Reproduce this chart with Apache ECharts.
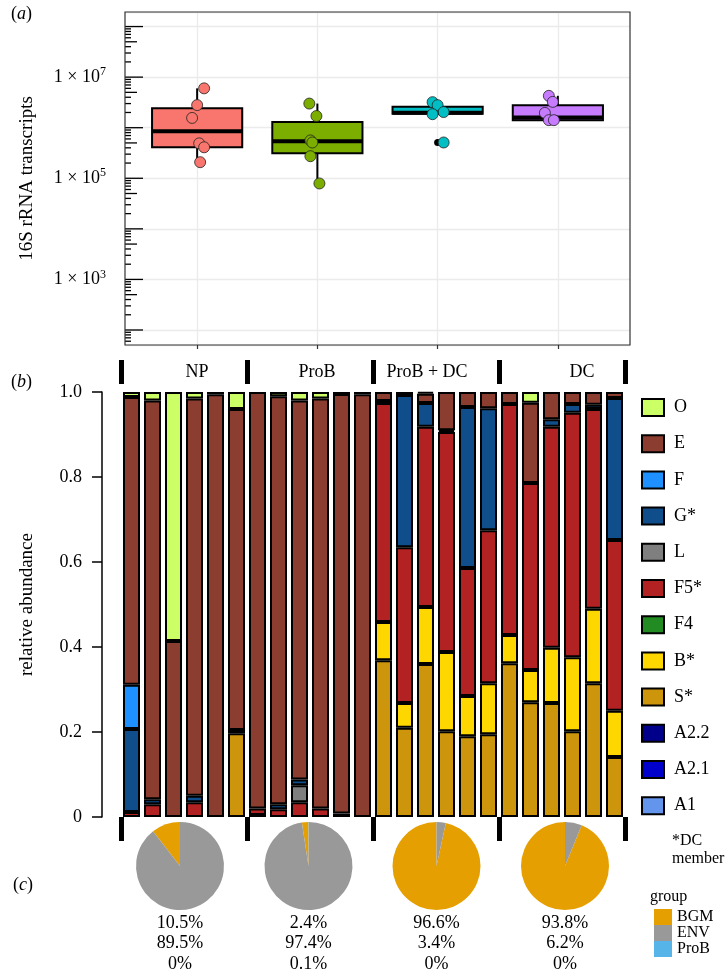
<!DOCTYPE html>
<html><head><meta charset="utf-8">
<script src="https://cdn.jsdelivr.net/npm/echarts@6/dist/echarts.min.js"></script>
<style>html,body{margin:0;padding:0;background:#fff}#c{width:728px;height:974px}</style>
</head><body><div id="c"></div>
<script>
const FONT = "'Liberation Serif','DejaVu Serif',serif";

// ---------- panel (a): 16S rRNA transcripts ----------
const groups = ['NP', 'ProB', 'ProB + DC', 'DC'];
const groupColors = ['#F8766D', '#7CAE00', '#00BFC4', '#C77CFF'];
// [min, Q1, median, Q3, max]
const boxNP    = [2.07e5, 4.1e5, 8.5e5, 2.43e6, 6.0e6];
const boxProB  = [7.9e4, 3.13e5, 5.4e5, 1.29e6, 3.0e6];
const boxProBDC = [1.85e6, 1.88e6, 1.98e6, 2.6e6, 3.2e6];
const boxDC    = [1.41e6, 1.41e6, 1.59e6, 2.79e6, 4.27e6];
// jittered sample points [x position, transcripts]
const ptsNP    = [[1.058, 6.0e6], [1.0, 2.8e6], [0.958, 1.56e6], [1.017, 4.9e5], [1.058, 4.1e5], [1.025, 2.08e5]];
const ptsProB  = [[1.933, 3.0e6], [1.992, 1.7e6], [1.942, 5.6e5], [1.958, 5.1e5], [1.942, 2.73e5], [2.017, 7.9e4]];
const ptsProBDC = [[2.958, 3.2e6], [3.0, 2.79e6], [3.05, 2.04e6], [2.958, 1.85e6], [3.05, 5.1e5]];
const ptsDC    = [[3.925, 4.27e6], [3.958, 3.24e6], [3.892, 1.96e6], [3.925, 1.41e6], [3.967, 1.41e6]];
const outliers = [[3.0, 5.1e5]];
const yLabelDecades = [3, 5, 7];
const logTickMantissas = [1, 2, 3, 4, 5, 6, 7, 8, 9];
const logTickDecades = [1, 2, 3, 4, 5, 6, 7, 8];
const Y_MIN = 50.5, Y_MAX = 1.94e8, X_MIN = 0.4, X_MAX = 4.6;

// ---------- panel (b): relative abundance ----------
const samples = ['NP1','NP2','NP3','NP4','NP5','NP6','PB1','PB2','PB3','PB4','PB5','PB6',
                 'PD1','PD2','PD3','PD4','PD5','PD6','DC1','DC2','DC3','DC4','DC5','DC6'];
const taxa = ['A1', 'A2.1', 'A2.2', 'S*', 'B*', 'F4', 'F5*', 'L', 'G*', 'F', 'E', 'O']; // bottom -> top
const taxaColors = {
  'O': '#CCFF66', 'E': '#8B3E2F', 'F': '#1E90FF', 'G*': '#104E8B', 'L': '#7F7F7F', 'F5*': '#B22222',
  'F4': '#228B22', 'B*': '#FFD700', 'S*': '#CD950C', 'A2.2': '#00008B', 'A2.1': '#0000CD', 'A1': '#6495ED'
};
const abA1  = [0,0,0,0,0,0, 0,0,0,0,0,0, 0,0,0,0,0,0, 0,0,0,0,0,0];
const abA21 = [0,0,0,0,0,0, 0,0,0,0,0,0, 0,0,0,0,0,0, 0,0,0,0,0,0];
const abA22 = [0,0,0,0,0,0, 0.005,0,0,0,0,0, 0,0,0,0,0,0, 0,0,0,0,0,0];
const abS   = [0,0,0,0,0,0.197, 0,0,0,0,0,0, 0.369,0.210,0.360,0.202,0.190,0.195, 0.362,0.270,0.268,0.202,0.315,0.141];
const abB   = [0,0,0,0,0,0, 0,0,0,0,0,0, 0.090,0.058,0.134,0.186,0.095,0.120, 0.066,0.076,0.130,0.174,0.175,0.109];
const abF4  = [0,0,0,0,0,0, 0,0,0,0,0,0, 0,0,0,0,0,0, 0,0,0,0,0,0];
const abF5  = [0.012,0.030,0,0.035,0,0.008, 0.015,0.018,0.035,0.020,0.008,0, 0.515,0.367,0.424,0.518,0.301,0.360, 0.544,0.440,0.520,0.575,0.470,0.402];
const abL   = [0,0,0,0,0,0, 0,0,0.040,0,0,0, 0,0,0,0,0,0, 0,0,0,0,0,0];
const abG   = [0.195,0.012,0,0.015,0,0, 0,0.012,0.013,0,0,0, 0.005,0.358,0.056,0.004,0.379,0.287, 0,0,0.018,0.021,0.010,0.334];
const abF   = [0.104,0,0,0,0,0, 0,0,0,0,0,0, 0,0,0,0,0,0, 0,0,0,0,0,0];
const abE   = [0.677,0.938,0.414,0.935,0.995,0.755, 0.980,0.960,0.892,0.965,0.987,0.995, 0.021,0.007,0.022,0.090,0.035,0.038, 0.028,0.189,0.064,0.028,0.030,0.014];
const abO   = [0.012,0.020,0.586,0.015,0.005,0.040, 0,0.010,0.020,0.015,0.005,0.005, 0,0,0.004,0,0,0, 0,0.025,0,0,0,0];
const abundance = {'A1': abA1, 'A2.1': abA21, 'A2.2': abA22, 'S*': abS, 'B*': abB, 'F4': abF4,
  'F5*': abF5, 'L': abL, 'G*': abG, 'F': abF, 'E': abE, 'O': abO};
const legendOrder = ['O', 'E', 'F', 'G*', 'L', 'F5*', 'F4', 'B*', 'S*', 'A2.2', 'A2.1', 'A1'];

// ---------- panel (c): group origin ----------
const pieNames = ['BGM', 'ENV', 'ProB'];
const pieColors = {'BGM': '#E69F00', 'ENV': '#999999', 'ProB': '#56B4E9'};
const pctBGM  = [10.5, 2.4, 96.6, 93.8];
const pctENV  = [89.5, 97.4, 3.4, 6.2];
const pctProB = [0, 0.1, 0, 0];

// ---------- layout constants ----------
const pieCX = [180, 308.5, 436.5, 565];
const PIE_CY = 866, PIE_R = 44;

const chart = echarts.init(document.getElementById('c'), null, {renderer: 'canvas'});

const boxData = [[1].concat(boxNP), [2].concat(boxProB), [3].concat(boxProBDC), [4].concat(boxDC)];
const logTicks = [];
logTickDecades.forEach(k => logTickMantissas.forEach(m => {
  const v = m * Math.pow(10, k);
  if (v >= Y_MIN && v <= Y_MAX) logTicks.push([X_MIN, v, m]);
}));

function renderBox(params, api) {
  const x = api.value(0);
  const lo = api.coord([x, api.value(1)]);
  const q1 = api.coord([x, api.value(2)]);
  const md = api.coord([x, api.value(3)]);
  const q3 = api.coord([x, api.value(4)]);
  const hi = api.coord([x, api.value(5)]);
  const l = api.coord([x - 0.375, api.value(3)])[0];
  const r = api.coord([x + 0.375, api.value(3)])[0];
  const color = groupColors[params.dataIndex];
  return {type: 'group', children: [
    {type: 'line', shape: {x1: hi[0], y1: hi[1], x2: q3[0], y2: q3[1]}, style: {stroke: '#000', lineWidth: 2}},
    {type: 'line', shape: {x1: q1[0], y1: q1[1], x2: lo[0], y2: lo[1]}, style: {stroke: '#000', lineWidth: 2}},
    {type: 'rect', shape: {x: l, y: q3[1], width: r - l, height: q1[1] - q3[1]}, style: {fill: color, stroke: '#000', lineWidth: 2}},
    {type: 'line', shape: {x1: l, y1: md[1], x2: r, y2: md[1]}, style: {stroke: '#000', lineWidth: 4}}
  ]};
}
function renderLogTick(params, api) {
  const m = api.value(2);
  const len = m === 1 ? 18 : (m === 5 ? 12 : 6);
  const p = api.coord([api.value(0), api.value(1)]);
  return {type: 'line', shape: {x1: p[0], y1: p[1], x2: p[0] + len, y2: p[1]}, style: {stroke: '#000', lineWidth: 1.3}};
}

const series = [];
series.push({type: 'custom', name: 'logticks', xAxisIndex: 0, yAxisIndex: 0, data: logTicks,
  encode: {x: 0, y: 1}, renderItem: renderLogTick, silent: true, z: 3, clip: false});
series.push({type: 'custom', name: 'boxes', xAxisIndex: 0, yAxisIndex: 0, data: boxData,
  encode: {x: 0, y: [1, 2, 3, 4, 5]}, renderItem: renderBox, silent: true, z: 2});
series.push({type: 'scatter', name: 'outlier', xAxisIndex: 0, yAxisIndex: 0, data: outliers,
  symbolSize: 7, itemStyle: {color: '#000', opacity: 1}, silent: true, z: 3});
[ptsNP, ptsProB, ptsProBDC, ptsDC].forEach((pts, i) => {
  series.push({type: 'scatter', name: 'points-' + groups[i], xAxisIndex: 0, yAxisIndex: 0, data: pts,
    symbolSize: 11, itemStyle: {color: groupColors[i], borderColor: '#222', borderWidth: 0.8, opacity: 1},
    silent: true, z: 4});
});
taxa.forEach(t => {
  series.push({type: 'bar', name: t, xAxisIndex: 1, yAxisIndex: 1, stack: 'ab', barWidth: 17,
    data: abundance[t].map(v => v > 0 ? v : '-'),
    itemStyle: {color: taxaColors[t], borderColor: '#000', borderWidth: 2}, silent: true});
});
pieCX.forEach((cx, i) => {
  series.push({type: 'pie', name: 'pie' + i, center: [cx, PIE_CY], radius: PIE_R,
    startAngle: 90, clockwise: false, silent: true, label: {show: false}, labelLine: {show: false},
    emphasis: {disabled: true},
    data: [
      {name: 'BGM', value: pctBGM[i], itemStyle: {color: pieColors.BGM}},
      {name: 'ENV', value: pctENV[i], itemStyle: {color: pieColors.ENV}},
      {name: 'ProB', value: pctProB[i], itemStyle: {color: pieColors.ProB}}
    ]});
});

const txt = (x, y, text, size, align, extra) => Object.assign({
  type: 'text', x: x, y: y, silent: true,
  style: Object.assign({text: text, fontSize: size, fontFamily: FONT, fill: '#000',
    align: align || 'center', verticalAlign: 'middle', textAlign: align || 'center', textVerticalAlign: 'middle'}, extra || {})
});

const graphics = [
  txt(11, 14, '({i|a})', 18, 'left', {rich: {i: {fontStyle: 'italic', fontSize: 18, fontFamily: FONT}}}),
  txt(11, 382, '({i|b})', 18, 'left', {rich: {i: {fontStyle: 'italic', fontSize: 18, fontFamily: FONT}}}),
  txt(13, 885, '({i|c})', 18, 'left', {rich: {i: {fontStyle: 'italic', fontSize: 18, fontFamily: FONT}}}),
  txt(197, 372, groups[0], 18),
  txt(317, 372, groups[1], 18),
  txt(427, 372, groups[2], 18),
  txt(582, 372, groups[3], 18),
  txt(672, 841, '*DC', 16, 'left'),
  txt(672, 859, 'member', 16, 'left'),
  txt(650, 897, 'group', 16, 'left')
];
pieCX.forEach((cx, i) => {
  graphics.push({type: 'text', x: cx, y: 913, silent: true,
    style: {text: [pctBGM[i] + '%', pctENV[i] + '%', pctProB[i] + '%'].join('\n'), fontSize: 18, fontFamily: FONT,
      fill: '#000', lineHeight: 20.5, align: 'center', textAlign: 'center', verticalAlign: 'top', textVerticalAlign: 'top'}});
});

const option = {
  animation: false,
  backgroundColor: '#fff',
  textStyle: {fontFamily: FONT, color: '#000'},
  grid: [
    {left: 125, top: 12, width: 505, height: 333, show: true, z: 10, backgroundColor: 'transparent', borderColor: '#333', borderWidth: 1.2},
    {left: 121, top: 392, width: 504, height: 425, show: false}
  ],
  xAxis: [
    {gridIndex: 0, type: 'value', min: X_MIN, max: X_MAX,
      axisLine: {show: false},
      axisTick: {show: true, customValues: [1, 2, 3, 4], length: 4, lineStyle: {color: '#333', width: 1.2}},
      axisLabel: {show: false},
      splitLine: {show: true, lineStyle: {color: '#EBEBEB', width: 1.3}}},
    {gridIndex: 1, type: 'category', data: samples, position: 'bottom', offset: 5,
      axisLine: {show: false}, axisLabel: {show: false},
      axisTick: {show: true, interval: 5, length: 24, lineStyle: {color: '#000', width: 5}}},
    {gridIndex: 1, type: 'category', data: samples, position: 'top', offset: 8,
      axisLine: {show: false}, axisLabel: {show: false},
      axisTick: {show: true, interval: 5, length: 24, lineStyle: {color: '#000', width: 5}}}
  ],
  yAxis: [
    {gridIndex: 0, type: 'log', logBase: 10, min: Y_MIN, max: Y_MAX,
      axisLine: {show: false}, axisTick: {show: false},
      axisLabel: {margin: 19, color: '#000',
        formatter: v => {
          const k = Math.log10(v);
          const r = Math.round(k);
          if (Math.abs(k - r) > 1e-6 || yLabelDecades.indexOf(r) < 0) return '';
          return '{b|1 × 10}{s|' + r + '}';
        },
        rich: {b: {fontSize: 18, fontFamily: FONT, color: '#000', lineHeight: 22},
               s: {fontSize: 12, fontFamily: FONT, color: '#000', verticalAlign: 'top', lineHeight: 14}}},
      splitLine: {show: true, lineStyle: {color: '#EBEBEB', width: 1.3}},
      name: '16S rRNA transcripts', nameLocation: 'middle', nameGap: 88, nameRotate: 90,
      nameTextStyle: {fontSize: 19, fontFamily: FONT, color: '#000'}},
    {gridIndex: 1, type: 'value', min: 0, max: 1, interval: 0.2, offset: 19,
      axisLine: {show: true, lineStyle: {color: '#000', width: 1.5}},
      axisTick: {show: true, length: 10, lineStyle: {color: '#000', width: 1.5}},
      axisLabel: {margin: 20, fontSize: 18, fontFamily: FONT, color: '#000',
        formatter: v => v === 0 ? '0' : v.toFixed(1)},
      splitLine: {show: false},
      name: 'relative abundance', nameLocation: 'middle', nameGap: 65, nameRotate: 90,
      nameTextStyle: {fontSize: 19, fontFamily: FONT, color: '#000'}}
  ],
  legend: [
    {show: true, orient: 'vertical', left: 641, top: 398, padding: 0, itemWidth: 22, itemHeight: 17, itemGap: 17.2,
      icon: 'rect', selectedMode: false, data: legendOrder,
      itemStyle: {borderColor: '#000', borderWidth: 2},
      textStyle: {fontSize: 18, fontFamily: FONT, color: '#000', lineHeight: 17, padding: [0, 0, 0, 5]}},
    {show: true, orient: 'vertical', left: 654, top: 909, padding: 0, itemWidth: 18, itemHeight: 16, itemGap: 0,
      icon: 'rect', selectedMode: false, data: pieNames,
      itemStyle: {borderWidth: 0},
      textStyle: {fontSize: 16, fontFamily: FONT, color: '#000', lineHeight: 16}}
  ],
  graphic: graphics,
  series: series
};
chart.setOption(option);
</script>
</body></html>
